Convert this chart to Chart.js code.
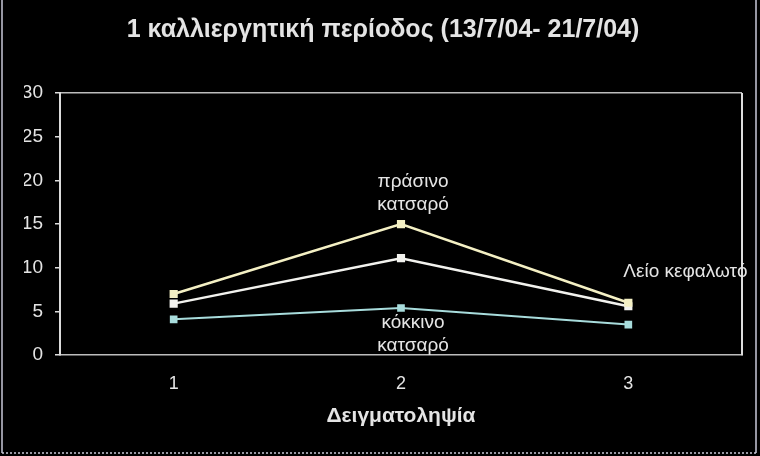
<!DOCTYPE html>
<html lang="el">
<head>
<meta charset="utf-8">
<title>1 καλλιεργητική περίοδος</title>
<script src="https://cdn.jsdelivr.net/npm/chart.js@4.4.1/dist/chart.umd.min.js"></script>
<style>
  html, body { margin: 0; padding: 0; background: #000; }
  #wrap { width: 760px; height: 456px; position: relative; }
</style>
</head>
<body>
<div id="wrap"><canvas id="chart"></canvas></div>
<script>
// Δεδομένα (εκτίμηση από την εικόνα)
const samplings = ['1', '2', '3'];
const greenCurly = [7.0, 15.0, 6.0];
const smoothHead = [5.9, 11.1, 5.6];
const redCurly = [4.1, 5.4, 3.5];
const seriesNames = ['πράσινο κατσαρό', 'Λείο κεφαλωτό', 'κόκκινο κατσαρό'];
const yTicks = [0, 5, 10, 15, 20, 25, 30];

const textColor = '#e4e4e4';
const fontFamily = '"Liberation Sans", Arial, sans-serif';

// ετικέτες σειρών + πλαίσια
const frames = {
  id: 'frames',
  afterDraw(chart) {
    const ctx = chart.ctx;
    const a = chart.chartArea;
    ctx.save();
    // δεξιά πλευρά περιοχής σχεδίασης
    ctx.strokeStyle = '#dcdcdc';
    ctx.lineWidth = 2;
    ctx.beginPath();
    ctx.moveTo(a.right, a.top);
    ctx.lineTo(a.right, a.bottom);
    ctx.stroke();
    // εξωτερικό πλαίσιο
    ctx.lineWidth = 1.5;
    ctx.strokeStyle = '#c8c8d8';
    ctx.beginPath();
    ctx.moveTo(2, 0);
    ctx.lineTo(2, 453);
    ctx.moveTo(756, 0);
    ctx.lineTo(756, 453);
    ctx.stroke();
    ctx.setLineDash([2, 2]);
    ctx.beginPath();
    ctx.moveTo(2, 453);
    ctx.lineTo(756, 453);
    ctx.stroke();
    ctx.setLineDash([]);

    // ετικέτες δεδομένων
    const x = chart.scales.x, y = chart.scales.y;
    ctx.fillStyle = textColor;
    ctx.font = '19px ' + fontFamily;
    ctx.textAlign = 'center';
    ctx.textBaseline = 'middle';
    const px2 = x.getPixelForValue(1);
    const gy = y.getPixelForValue(greenCurly[1]);
    const g = seriesNames[0].split(' ');
    ctx.fillText(g[0], px2 + 12, gy - 42);
    ctx.fillText(g[1], px2 + 12, gy - 19);
    const ry = y.getPixelForValue(redCurly[1]);
    const r = seriesNames[2].split(' ');
    ctx.fillText(r[0], px2 + 12, ry + 15);
    ctx.fillText(r[1], px2 + 12, ry + 38);
    const px3 = x.getPixelForValue(2);
    const sy = y.getPixelForValue(smoothHead[2]);
    ctx.textAlign = 'left';
    ctx.fillText(seriesNames[1], px3 - 5, sy - 34);
    ctx.restore();
  }
};

const ctx = document.getElementById('chart').getContext('2d');
new Chart(ctx, {
  type: 'line',
  data: {
    labels: samplings,
    datasets: [
      {
        label: seriesNames[0],
        data: greenCurly,
        borderColor: '#f4f0c4',
        backgroundColor: '#f4f0c4',
        borderWidth: 2.5,
        pointStyle: 'rect',
        pointRadius: 4
      },
      {
        label: seriesNames[1],
        data: smoothHead,
        borderColor: '#f2f2ee',
        backgroundColor: '#f2f2ee',
        borderWidth: 2.5,
        pointStyle: 'rect',
        pointRadius: 4
      },
      {
        label: seriesNames[2],
        data: redCurly,
        borderColor: '#a8dcdc',
        backgroundColor: '#a8dcdc',
        borderWidth: 2,
        pointStyle: 'rect',
        pointRadius: 4
      }
    ]
  },
  options: {
    responsive: true,
    maintainAspectRatio: false,
    animation: false,
    layout: { padding: { left: 24, right: 18, top: 0, bottom: 27 } },
    plugins: {
      legend: { display: false },
      tooltip: { enabled: false },
      title: {
        display: true,
        text: '1 καλλιεργητική περίοδος (13/7/04- 21/7/04)',
        color: textColor,
        font: { family: fontFamily, size: 25, weight: 'bold' },
        padding: { top: 15, bottom: 48 }
      }
    },
    scales: {
      x: {
        offset: true,
        grid: { display: false, drawTicks: false },
        border: { color: '#bdbdbd', width: 1.5, dash: [2, 2] },
        ticks: { color: textColor, font: { family: fontFamily, size: 18 }, padding: 18 },
        title: {
          display: true,
          text: 'Δειγματοληψία',
          color: textColor,
          font: { family: fontFamily, size: 21, weight: 'bold' },
          padding: { top: -9, bottom: 0 }
        }
      },
      y: {
        min: 0,
        max: 30,
        afterBuildTicks: (scale) => { scale.ticks = yTicks.map(v => ({ value: v })); },
        afterFit: (scale) => { scale.width = 36; },
        grid: {
          color: (c) => c.tick && c.tick.value === 30 ? '#bdbdbd' : 'transparent',
          lineWidth: 1.5,
          tickColor: '#dcdcdc',
          tickLength: 5
        },
        border: { color: '#dcdcdc', width: 2 },
        ticks: { color: textColor, font: { family: fontFamily, size: 19 }, padding: 12 }
      }
    }
  },
  plugins: [frames]
});
</script>
</body>
</html>
